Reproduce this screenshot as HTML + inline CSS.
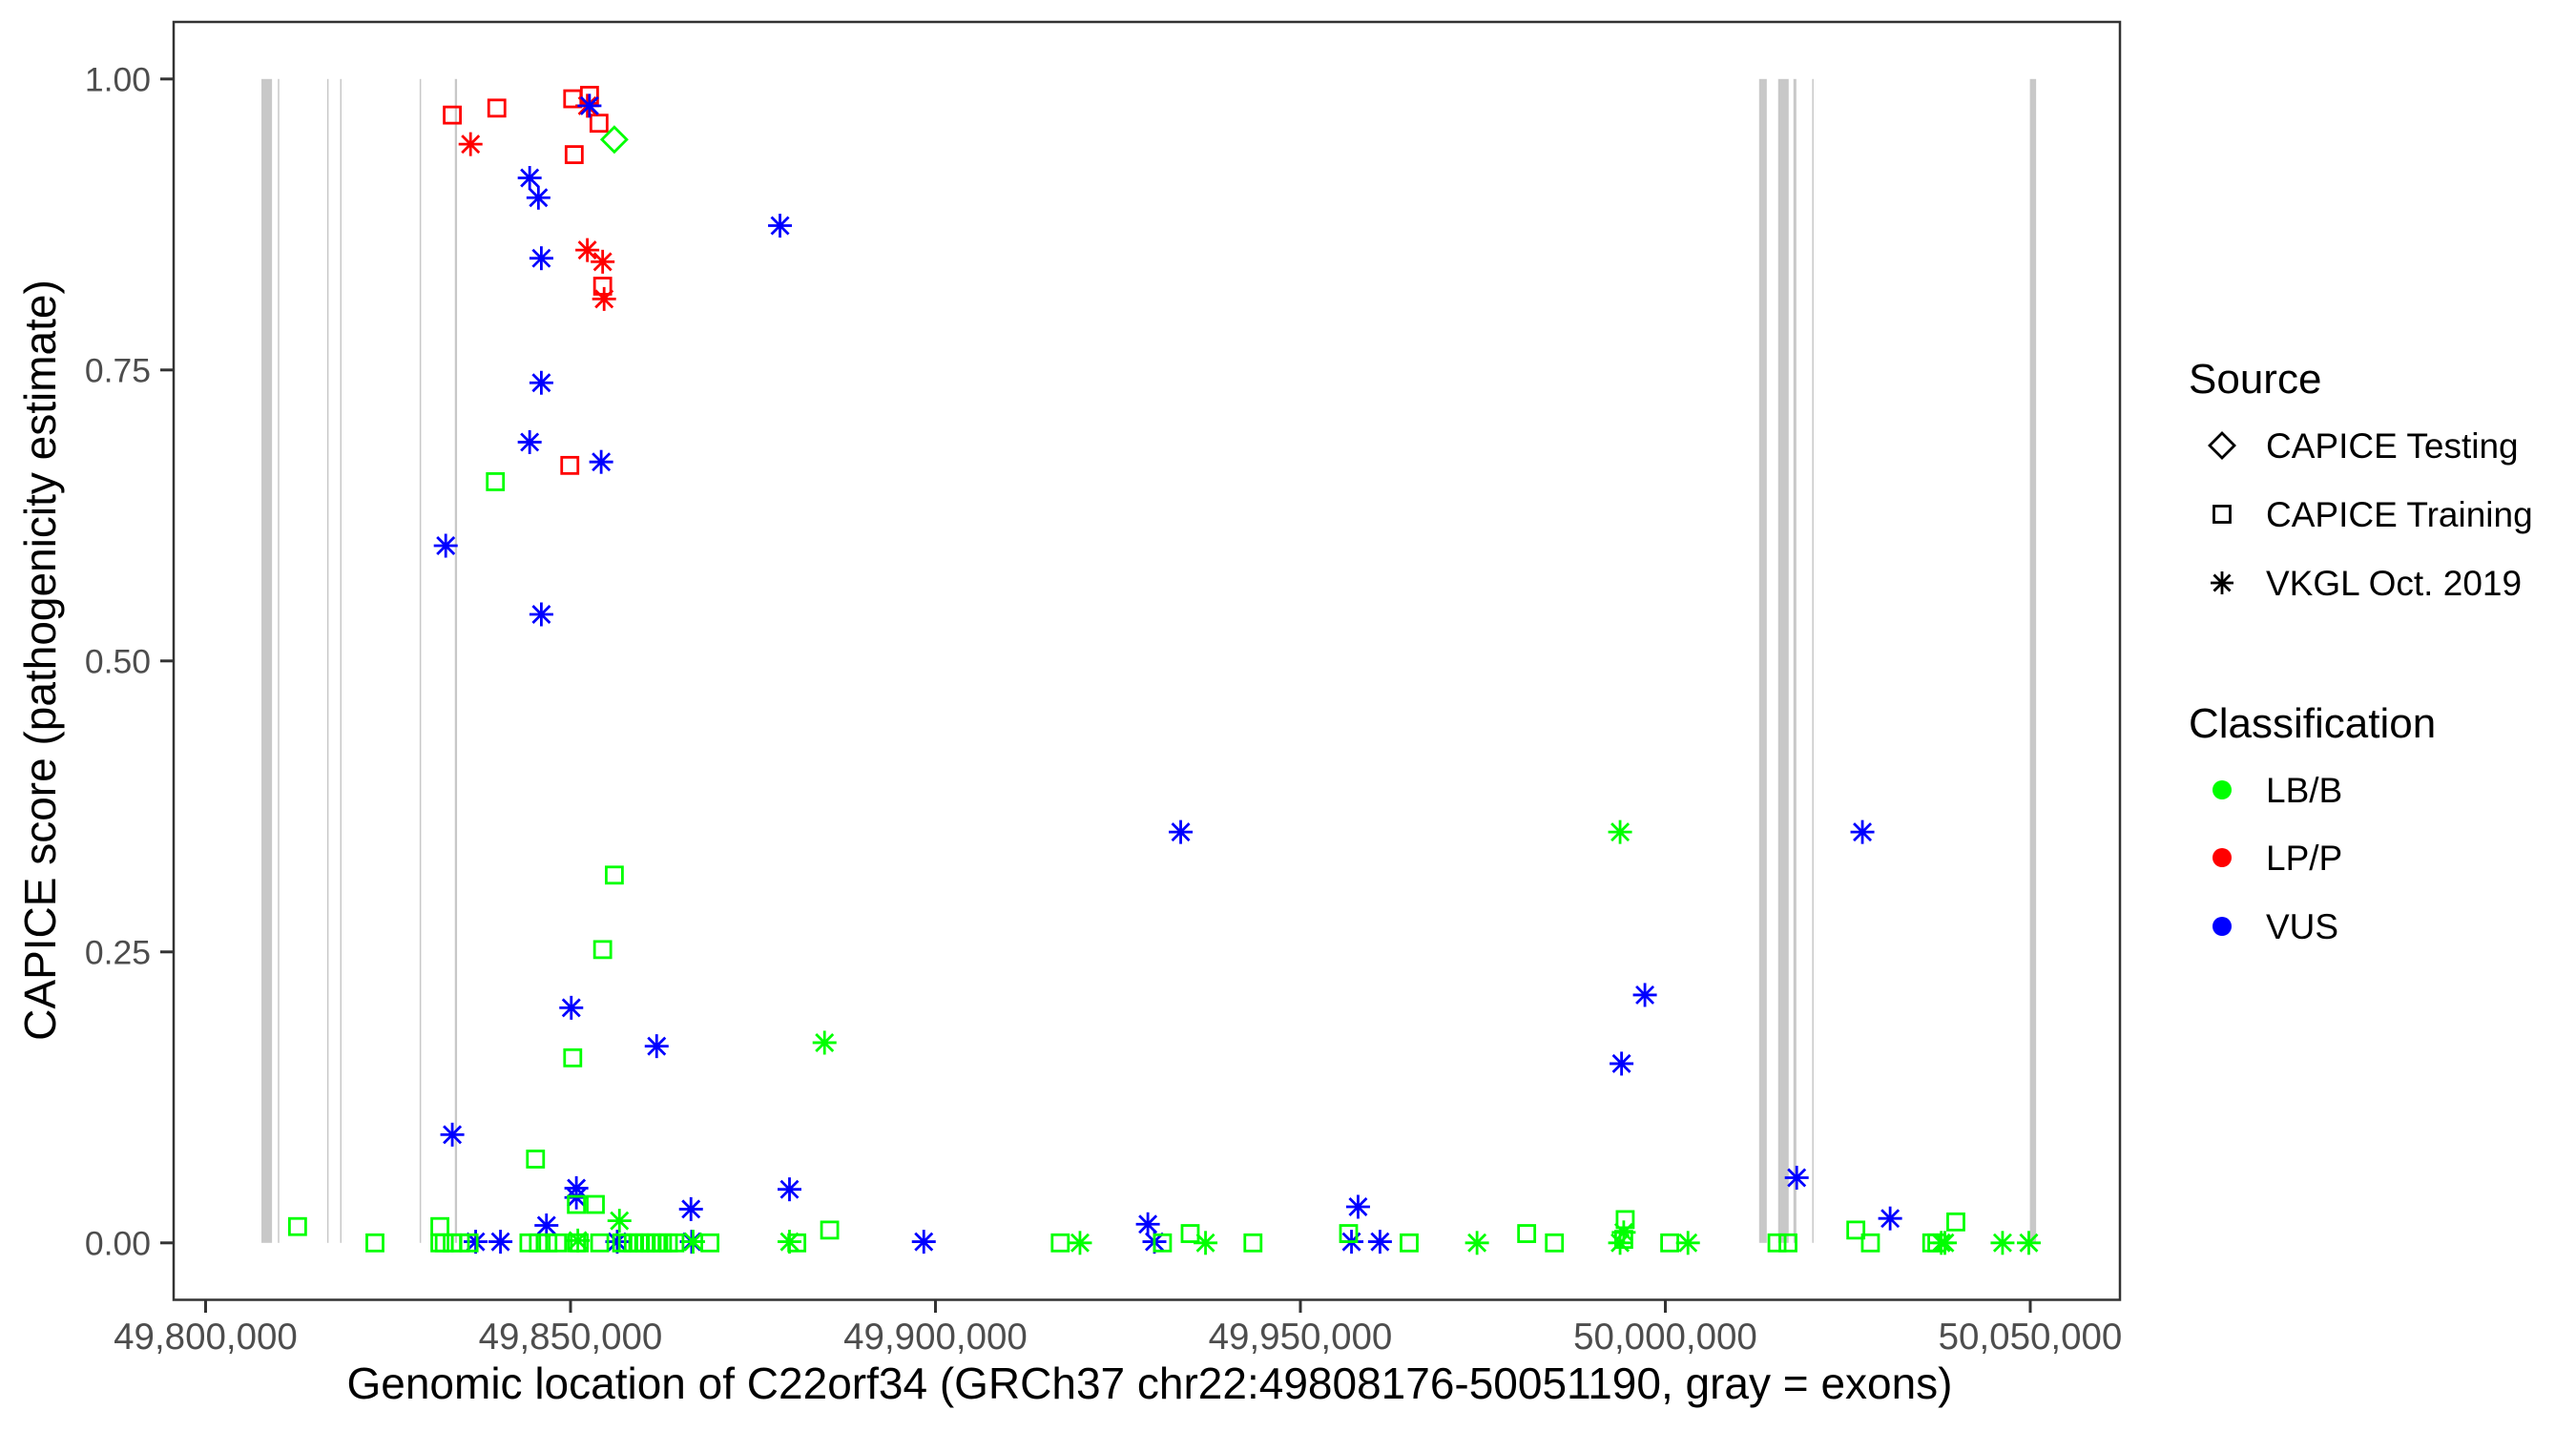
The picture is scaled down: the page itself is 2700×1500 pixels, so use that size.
<!DOCTYPE html>
<html><head><meta charset="utf-8"><style>
html,body{margin:0;padding:0;background:#fff;}
svg{display:block;font-family:"Liberation Sans",Arial,sans-serif;}
</style></head><body>
<svg id="chart" width="2700" height="1500" viewBox="0 0 2700 1500" xmlns="http://www.w3.org/2000/svg">
<rect x="0" y="0" width="2700" height="1500" fill="#fff"/>
<g id="exons"></g>
<g id="points"></g>
<rect x="182" y="23" width="2040" height="1339.5" fill="none" stroke="#333" stroke-width="2.5"/>
<g id="axes"></g>
<text x="1205" y="1466" font-size="46" text-anchor="middle" fill="#000">Genomic location of C22orf34 (GRCh37 chr22:49808176-50051190, gray = exons)</text>
<text transform="translate(58,692) rotate(-90)" font-size="46" text-anchor="middle" fill="#000">CAPICE score (pathogenicity estimate)</text>
<g>
<text x="2294" y="412" font-size="44" fill="#000">Source</text>
<polygon points="2329,454 2342,467 2329,480 2316,467" fill="none" stroke="#000" stroke-width="2.8"/>
<text x="2375" y="480" font-size="37" fill="#000">CAPICE Testing</text>
<rect x="2320.5" y="530.5" width="17" height="17" fill="none" stroke="#000" stroke-width="2.8"/>
<text x="2375" y="552" font-size="37" fill="#000">CAPICE Training</text>
<g stroke="#000" stroke-width="2.8"><line x1="2329" y1="599" x2="2329" y2="623"/><line x1="2317" y1="611" x2="2341" y2="611"/><line x1="2320.5" y1="602.5" x2="2337.5" y2="619.5"/><line x1="2320.5" y1="619.5" x2="2337.5" y2="602.5"/></g>
<text x="2375" y="624" font-size="37" fill="#000">VKGL Oct. 2019</text>
</g>
<g>
<text x="2294" y="773" font-size="44" fill="#000">Classification</text>
<circle cx="2329" cy="828" r="10" fill="#00FF00"/>
<text x="2375" y="841" font-size="37" fill="#000">LB/B</text>
<circle cx="2329" cy="899" r="10" fill="#FF0000"/>
<text x="2375" y="912" font-size="37" fill="#000">LP/P</text>
<circle cx="2329" cy="971" r="10" fill="#0000FF"/>
<text x="2375" y="984" font-size="37" fill="#000">VUS</text>
</g>
</svg>
<script>
// data (positions in kb on chr22, scores 0-1)
const exonStarts = [49807.65,49809.90,49816.65,49818.43,49829.33,49834.15,50012.85,50015.46,50017.55,50020.12,50049.95];
const exonEnds   = [49809.10,49810.05,49816.75,49818.53,49829.43,49834.45,50013.90,50016.90,50017.95,50020.22,50050.80];
const xTickValues = [49800,49850,49900,49950,50000,50050];
const xTickLabels = ["49,800,000","49,850,000","49,900,000","49,950,000","50,000,000","50,050,000"];
const yTickValues = [0,0.25,0.5,0.75,1];
const yTickLabels = ["0.00","0.25","0.50","0.75","1.00"];
// source: R = training, T = testing, V = VKGL ; class: B = LB/B, P = LP/P, U = VUS
const positions = [
49833.8,49839.9,49836.3,49850.3,49852.6,49852.3,49853.9,49850.5,49852.3,49854.4,49854.4,49854.6,49849.9,
49856.0,
49852.6,49844.4,49845.6,49878.7,49846.0,49846.0,49844.4,49854.2,49832.9,49846.0,49933.6,50027.0,49997.2,49994.0,49850.1,49861.8,49833.8,50018.0,49850.8,49850.8,49880.0,49866.5,49957.9,49846.7,49929.1,50030.8,
49837.0,49840.4,49856.4,49866.6,49898.4,49930.0,49957.0,49960.9,
49993.8,49884.8,49856.7,49880.0,49919.8,49937.0,49974.2,49993.8,49994.3,50003.1,50037.8,50038.3,50046.2,50049.8,49851.0,49866.8,
49856.0,49854.4,49850.3,49839.7,49845.2,49812.6,49832.1,49850.8,49853.4,49885.5,
49823.2,49832.1,49832.7,49833.8,49834.9,49836.1,49844.3,49845.6,49846.9,49848.2,49850.8,49851.2,49854.0,49857.0,49857.8,49858.6,49859.4,49860.2,49861.0,49861.8,49862.6,49863.4,49864.3,49869.1,49881.0,49917.1,49931.1,49943.5,49964.9,49984.8,50000.6,50015.3,50016.8,50028.1,50036.5,50037.2,
49934.9,49956.6,49981.0,49994.5,49994.3,50026.1,50039.8
];
const scores = [
0.969,0.975,0.944,0.983,0.986,0.977,0.962,0.935,0.853,0.843,0.822,0.811,0.668,
0.948,
0.977,0.915,0.898,0.874,0.846,0.739,0.688,0.671,0.599,0.540,0.353,0.353,0.213,0.154,0.202,0.169,0.093,0.056,0.047,0.039,0.046,0.029,0.031,0.015,0.016,0.021,
0.001,0.001,0.001,0.001,0.001,0.001,0.001,0.001,
0.353,0.172,0.019,0.001,0,0,0,0,0.009,0,0,0,0,0,0.002,0.001,
0.316,0.252,0.159,0.654,0.072,0.014,0.014,0.033,0.033,0.011,
0,0,0,0,0,0,0,0,0,0,0,0,0,0,0,0,0,0,0,0,0,0,0,0,0,0,0,0,0,0,0,0,0,0,0,0,
0.008,0.008,0.008,0.020,0.003,0.011,0.018
];
const sources = ("RRVRRVRRVVRVR"+"T"+"VVVVVVVVVVVVVVVVVVVVVVVVVV"+"VVVVVVVV"+"VVVVVVVVVVVVVVVV"+"RRRRRRRRRR"+"RRRRRRRRRRRRRRRRRRRRRRRRRRRRRRRRRRRR"+"RRRRRRR").split("");
const classes = ("PPPPPPPPPPPPP"+"B"+"UUUUUUUUUUUUUUUUUUUUUUUUUU"+"UUUUUUUU"+"BBBBBBBBBBBBBBBB"+"BBBBBBBBBB"+"BBBBBBBBBBBBBBBBBBBBBBBBBBBBBBBBBBBB"+"BBBBBBB").split("");

const NS = "http://www.w3.org/2000/svg";
function xS(kb){ return 215.5 + (kb - 49800) * 7.65; }
function yS(s){ return 1302.8 - s * 1220; }
const colorOf = {B:"#00FF00", P:"#FF0000", U:"#0000FF"};
function mk(tag, attrs, parent){
  const e = document.createElementNS(NS, tag);
  for (const k in attrs) e.setAttribute(k, attrs[k]);
  parent.appendChild(e);
  return e;
}
const gEx = document.getElementById("exons");
for (let i = 0; i < exonStarts.length; i++){
  const x1 = xS(exonStarts[i]), x2 = xS(exonEnds[i]);
  const w = Math.max(x2 - x1, 1.5);
  const r = mk("rect", {x:x1, y:yS(1), width:w, height:yS(0)-yS(1), fill:"#C8C8C8"}, gEx);
  
  
}
const gAx = document.getElementById("axes");
for (let i = 0; i < xTickValues.length; i++){
  const x = xS(xTickValues[i]);
  const t = mk("line", {x1:x, x2:x, y1:1362, y2:1376, stroke:"#333", "stroke-width":3}, gAx);
  
  
  const l = mk("text", {x:x, y:1414, "font-size":38.5, "text-anchor":"middle", fill:"#4D4D4D"}, gAx);
  l.textContent = xTickLabels[i];
  
  
}
for (let i = 0; i < yTickValues.length; i++){
  const y = yS(yTickValues[i]);
  const t = mk("line", {x1:168, x2:182, y1:y, y2:y, stroke:"#333", "stroke-width":3}, gAx);
  
  
  const l = mk("text", {x:158, y:y+12.5, "font-size":35.5, "text-anchor":"end", fill:"#4D4D4D"}, gAx);
  l.textContent = yTickLabels[i];
  
  
}
const gP = document.getElementById("points");
for (let i = 0; i < positions.length; i++){
  const cx = xS(positions[i]), cy = yS(scores[i]);
  const c = colorOf[classes[i]];
  let el;
  if (sources[i] === "R"){
    el = mk("rect", {x:cx-8.5, y:cy-8.5, width:17, height:17, fill:"none", stroke:c, "stroke-width":2.8}, gP);
    
  } else if (sources[i] === "T"){
    el = mk("polygon", {points:`${cx},${cy-13} ${cx+13},${cy} ${cx},${cy+13} ${cx-13},${cy}`, fill:"none", stroke:c, "stroke-width":2.8}, gP);
    
  } else {
    el = mk("g", {stroke:c, "stroke-width":2.8}, gP);
    mk("line", {x1:cx, y1:cy-12.5, x2:cx, y2:cy+12.5}, el);
    mk("line", {x1:cx-12.5, y1:cy, x2:cx+12.5, y2:cy}, el);
    mk("line", {x1:cx-9, y1:cy-9, x2:cx+9, y2:cy+9}, el);
    mk("line", {x1:cx-9, y1:cy+9, x2:cx+9, y2:cy-9}, el);
    
  }
  
}
</script>
</body></html>
